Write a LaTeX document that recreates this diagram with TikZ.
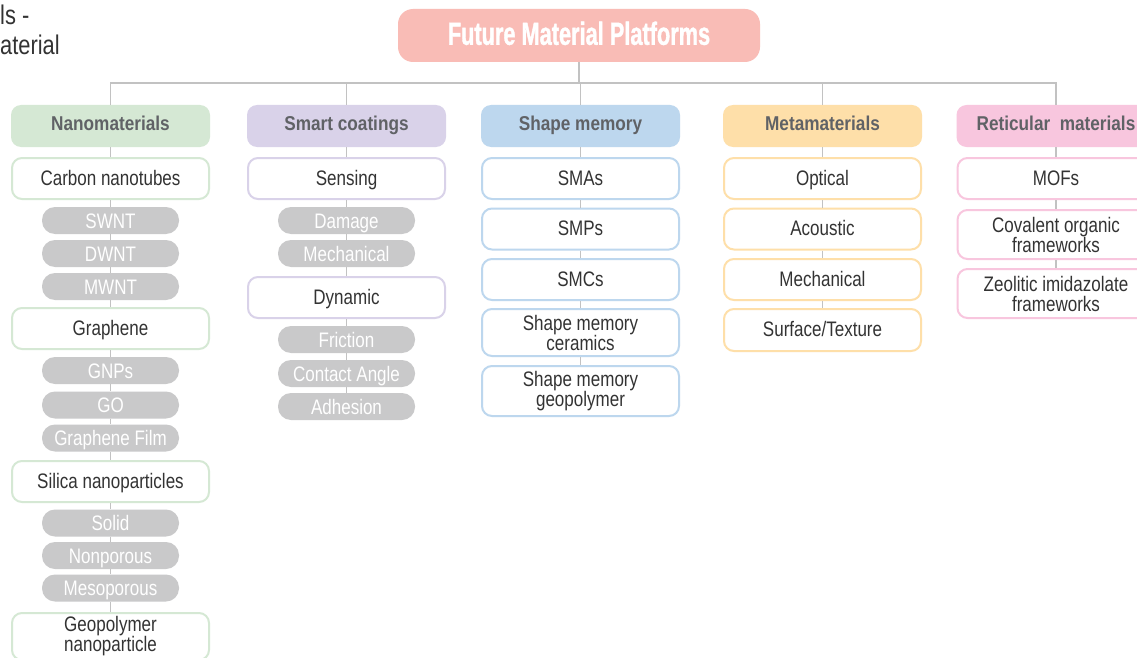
\documentclass[tikz,border=0pt]{standalone}
\usepackage{fontspec}
\setmainfont{Liberation Sans}
\newfontfamily\bodyf[FakeStretch=0.81]{Liberation Sans}
\newfontfamily\headf[FakeStretch=0.86]{Liberation Sans}
\newfontfamily\titlef[FakeStretch=0.68,FakeBold=1.2]{Liberation Sans}
\definecolor{txt}{HTML}{333333}
\definecolor{hdrtxt}{HTML}{606266}
\definecolor{pillgray}{HTML}{C9C9CA}
\definecolor{linegray}{HTML}{C2C2C2}
\definecolor{titlefill}{HTML}{F9BCB6}
\definecolor{gfill}{HTML}{D5E8D4}
\definecolor{pfill}{HTML}{D9D2E9}
\definecolor{bfill}{HTML}{BDD7EE}
\definecolor{ofill}{HTML}{FEDFA9}
\definecolor{kfill}{HTML}{F8C6DE}
\begin{document}
\begin{tikzpicture}[x=1pt,y=-1pt,
  titlebox/.style={fill=titlefill, rounded corners=15pt, minimum width=362pt, minimum height=53pt,
    inner sep=0pt, text=white, font=\titlef\bfseries\fontsize{32}{34}\selectfont, text height=20.6pt, text depth=2pt},
  hdr/.style={rounded corners=10pt, minimum width=199pt, minimum height=42pt, inner sep=0pt,
    text=hdrtxt, font=\headf\bfseries\fontsize{20}{22}\selectfont, text height=12pt, text depth=2pt},
  subbox/.style={draw=#1, line width=2pt, fill=white, rounded corners=10pt, minimum width=197pt,
    minimum height=41pt, inner sep=0pt, text=txt, font=\bodyf\fontsize{21}{20}\selectfont,
    text height=15pt, text depth=2pt},
  subtwo/.style={draw=#1, line width=2pt, fill=white, rounded corners=10pt, minimum width=197pt,
    inner sep=0pt, text=txt, font=\bodyf\fontsize{21}{20}\selectfont, align=center},
  pill/.style={fill=pillgray, rounded corners=13pt, minimum width=137pt, minimum height=27pt,
    inner sep=0pt, text=white, font=\bodyf\fontsize{21}{20}\selectfont, text height=17pt, text depth=2pt},
  conn/.style={draw=linegray, line width=1.2pt}
]
\useasboundingbox (0,0) rectangle (1137,658);
\clip (0,0) rectangle (1137,658);
\fill[white] (0,0) rectangle (1137,658);

% clipped text fragment at top left
\node[anchor=north west, align=left, inner sep=0pt, text=txt,
  font=\bodyf\fontsize{27}{30}\selectfont] (frag) at (0,5) {ls -\\aterial};

% title
\node[titlebox] (title) at (579,35.5) {Future Material Platforms};
\coordinate (j) at (579,83);

% headers
\node[hdr, fill=gfill] (h1) at (110.5,126) {Nanomaterials};
\node[hdr, fill=pfill] (h2) at (346.5,126) {Smart coatings};
\node[hdr, fill=bfill] (h3) at (580.5,126) {Shape memory};
\node[hdr, fill=ofill] (h4) at (822.5,126) {Metamaterials};
\node[hdr, fill=kfill] (h5) at (1056,126) {Reticular\ \ materials};

% column 1
\node[subbox=gfill] (cnt) at (110.5,178.5) {Carbon nanotubes};
\node[pill] (swnt) at (110.5,220.5) {SWNT};
\node[pill] (dwnt) at (110.5,253.5) {DWNT};
\node[pill] (mwnt) at (110.5,286.5) {MWNT};
\node[subbox=gfill] (graph) at (110.5,328.5) {Graphene};
\node[pill] (gnps) at (110.5,370.5) {GNPs};
\node[pill] (go) at (110.5,405) {GO};
\node[pill] (gfilm) at (110.5,438) {Graphene Film};
\node[subbox=gfill] (silica) at (110.5,481.5) {Silica nanoparticles};
\node[pill] (solid) at (110.5,523) {Solid};
\node[pill] (nonpor) at (110.5,555.5) {Nonporous};
\node[pill] (meso) at (110.5,588) {Mesoporous};
\node[subtwo=gfill, minimum height=47pt] (geo) at (110.5,636.5) {Geopolymer\\nanoparticle};

% column 2
\node[subbox=pfill] (sens) at (346.5,178.5) {Sensing};
\node[pill] (damage) at (346.5,220.5) {Damage};
\node[pill] (mech) at (346.5,253.5) {Mechanical};
\node[subbox=pfill] (dyn) at (346.5,297.5) {Dynamic};
\node[pill] (fric) at (346.5,339.5) {Friction};
\node[pill] (cang) at (346.5,373.5) {Contact Angle};
\node[pill] (adh) at (346.5,406.5) {Adhesion};

% column 3
\node[subbox=bfill] (smas) at (580.5,178.5) {SMAs};
\node[subbox=bfill] (smps) at (580.5,229) {SMPs};
\node[subbox=bfill] (smcs) at (580.5,279.5) {SMCs};
\node[subtwo=bfill, minimum height=47pt] (smcer) at (580.5,332.5) {Shape memory\\ceramics};
\node[subtwo=bfill, minimum height=50pt] (smgeo) at (580.5,391) {Shape memory\\geopolymer};

% column 4
\node[subbox=ofill] (opt) at (822.5,178.5) {Optical};
\node[subbox=ofill] (aco) at (822.5,229) {Acoustic};
\node[subbox=ofill] (mmech) at (822.5,279.5) {Mechanical};
\node[subbox=ofill, minimum height=42pt] (surf) at (822.5,330) {Surface/Texture};

% column 5
\node[subbox=kfill] (mofs) at (1056,178.5) {MOFs};
\node[subtwo=kfill, minimum height=49pt] (cofs) at (1056,234.5) {Covalent organic\\frameworks};
\node[subtwo=kfill, minimum height=49pt] (zifs) at (1056,293.5) {Zeolitic imidazolate\\frameworks};

% connectors
\draw[conn] (title) -- (j);
\draw[conn] (h1) |- (h5 |- j) -- (h5);
\foreach \n in {h2,h3,h4} \draw[conn] (\n) -- (\n |- j);
\foreach \a/\b in {h1/cnt, cnt/swnt, swnt/dwnt, dwnt/mwnt, mwnt/graph, graph/gnps, gnps/go,
  go/gfilm, gfilm/silica, silica/solid, solid/nonpor, nonpor/meso, meso/geo,
  h2/sens, sens/damage, damage/mech, mech/dyn, dyn/fric, fric/cang, cang/adh,
  h3/smas, smas/smps, smps/smcs, smcs/smcer, smcer/smgeo,
  h4/opt, opt/aco, aco/mmech, mmech/surf,
  h5/mofs, mofs/cofs, cofs/zifs}
  \draw[conn] (\a) -- (\b);
\end{tikzpicture}
\end{document}
